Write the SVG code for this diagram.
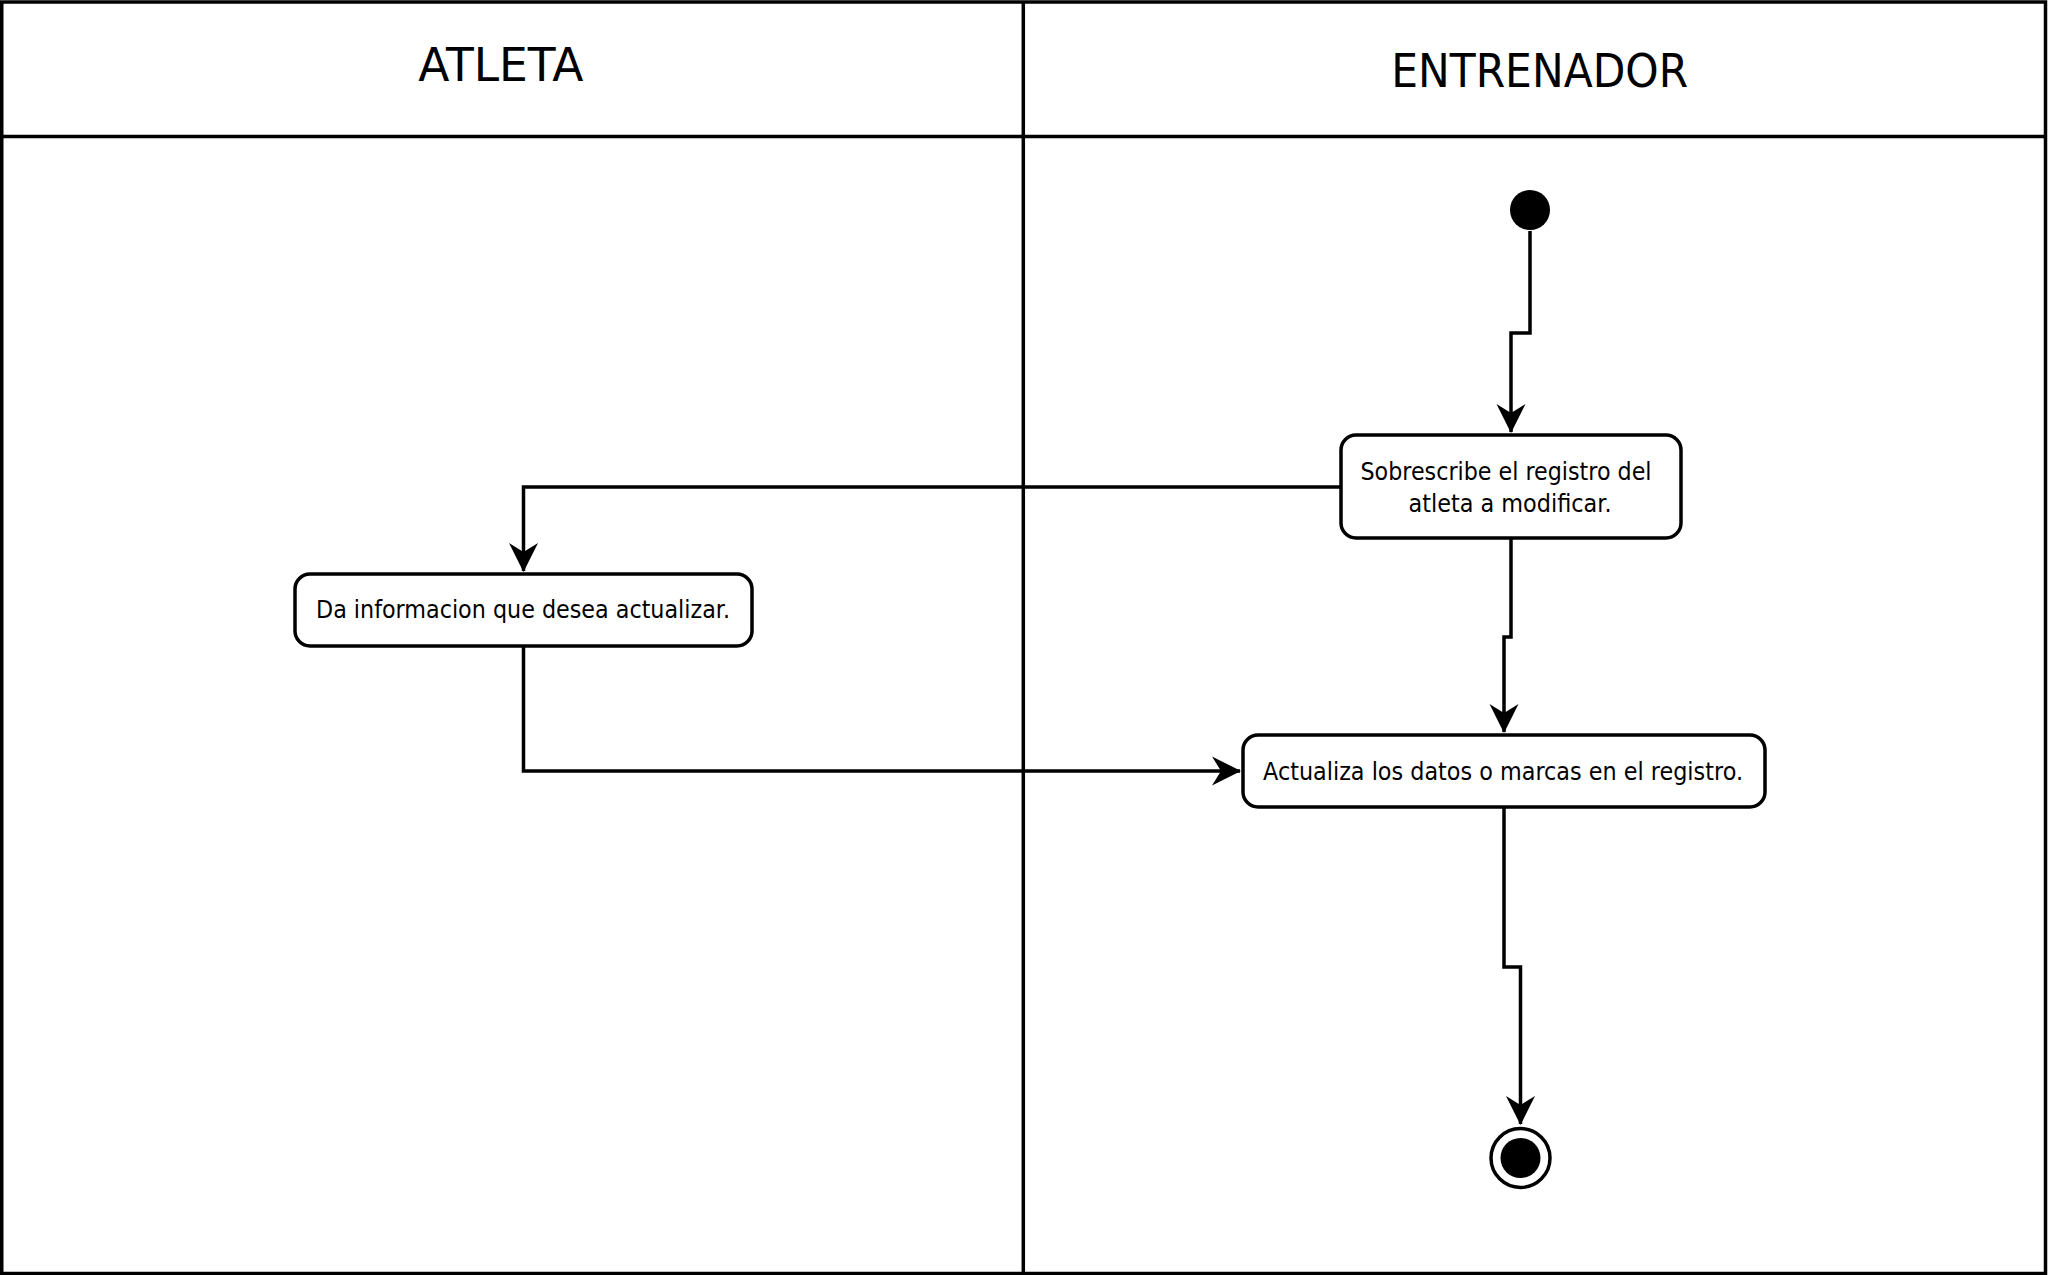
<svg xmlns="http://www.w3.org/2000/svg" width="2048" height="1275" viewBox="0 0 2048 1275">
<defs>
<style>
.lane{fill:none;stroke:#000;stroke-width:3.5}
.node{fill:#fff;stroke:#000;stroke-width:3.5}
.edge{fill:none;stroke:#000;stroke-width:3.5}
.hdr{font-family:"DejaVu Sans","Liberation Sans",sans-serif;font-size:46px;fill:#000;text-anchor:middle}
.lbl{font-family:"DejaVu Sans","Liberation Sans",sans-serif;font-size:24px;fill:#000;text-anchor:middle}
</style>
<marker id="arr" markerUnits="userSpaceOnUse" markerWidth="32" markerHeight="32" viewBox="-30 -16 32 32" refX="0" refY="0" orient="auto">
<path d="M1,0 L-28,-14.5 L-19,0 L-28,14.5 Z" fill="#000"/>
</marker>
</defs>
<rect width="2048" height="1275" fill="#fff"/>
<g id="lanes">
<rect class="lane" x="1.75" y="2" width="2043.75" height="1271.5"/>
<line class="lane" x1="1.5" y1="136.5" x2="2045.5" y2="136.5"/>
<line class="lane" x1="1023.3" y1="2" x2="1023.3" y2="1273.5"/>
<text class="hdr" x="500.8" y="81" textLength="165" lengthAdjust="spacingAndGlyphs">ATLETA</text>
<text class="hdr" x="1539.7" y="87.3" textLength="297" lengthAdjust="spacingAndGlyphs">ENTRENADOR</text>
</g>
<g id="connectors">
<path class="edge" d="M1530,231 L1530,333 L1511,333 L1511,432" marker-end="url(#arr)"/>
<path class="edge" d="M1341,487 L523.5,487 L523.5,571" marker-end="url(#arr)"/>
<path class="edge" d="M1511,538 L1511,637 L1504,637 L1504,732" marker-end="url(#arr)"/>
<path class="edge" d="M523.5,646 L523.5,771 L1240,771" marker-end="url(#arr)"/>
<path class="edge" d="M1504,807 L1504,967 L1520.5,967 L1520.5,1124" marker-end="url(#arr)"/>
</g>
<g id="start">
<circle cx="1530" cy="210" r="20" fill="#000"/>
</g>
<g id="sobrescribe">
<rect class="node" x="1341" y="435" width="340" height="103" rx="15"/>
<text class="lbl" x="1506" y="480" textLength="291" lengthAdjust="spacingAndGlyphs">Sobrescribe el registro del</text>
<text class="lbl" x="1510" y="511.7" textLength="203" lengthAdjust="spacingAndGlyphs">atleta a modificar.</text>
</g>
<g id="da-informacion">
<rect class="node" x="295" y="574" width="457" height="72" rx="15"/>
<text class="lbl" x="523" y="618" textLength="414" lengthAdjust="spacingAndGlyphs">Da informacion que desea actualizar.</text>
</g>
<g id="actualiza">
<rect class="node" x="1243" y="735" width="522" height="72" rx="15"/>
<text class="lbl" x="1503" y="779.5" textLength="480" lengthAdjust="spacingAndGlyphs">Actualiza los datos o marcas en el registro.</text>
</g>
<g id="end">
<circle cx="1520.5" cy="1158" r="29.5" fill="#fff" stroke="#000" stroke-width="3.5"/>
<circle cx="1520.5" cy="1158" r="20" fill="#000"/>
</g>
</svg>
